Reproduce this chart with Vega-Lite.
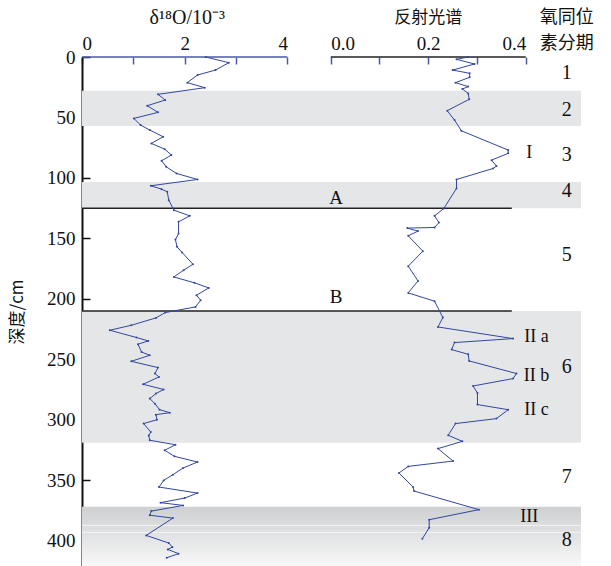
{
  "$schema": "https://vega.github.io/schema/vega-lite/v6.json",
  "width": 499,
  "height": 509,
  "autosize": "none",
  "padding": {"left": 82, "top": 57, "right": 30, "bottom": 0},
  "background": "white",
  "config": {"view": {"stroke": null}, "font": "Liberation Serif"},
  "datasets": {
    "d18o": [
      {"depth": 0, "d18O": 2.41}, {"depth": 4.7, "d18O": 2.86}, {"depth": 10.8, "d18O": 2.6}, {"depth": 14.9, "d18O": 2.25},
      {"depth": 21.2, "d18O": 2.05}, {"depth": 25.4, "d18O": 2.39}, {"depth": 30.9, "d18O": 1.48}, {"depth": 35.6, "d18O": 1.62},
      {"depth": 40.3, "d18O": 1.27}, {"depth": 45.8, "d18O": 1.48}, {"depth": 50.8, "d18O": 1.01}, {"depth": 56.3, "d18O": 1.14},
      {"depth": 60.4, "d18O": 1.32}, {"depth": 66, "d18O": 1.58}, {"depth": 71.5, "d18O": 1.35}, {"depth": 76.2, "d18O": 1.61},
      {"depth": 81.1, "d18O": 1.74}, {"depth": 85.8, "d18O": 1.55}, {"depth": 90.8, "d18O": 1.64}, {"depth": 96.3, "d18O": 1.84},
      {"depth": 101.3, "d18O": 2.25}, {"depth": 106.5, "d18O": 1.34}, {"depth": 109.3, "d18O": 1.55}, {"depth": 111.5, "d18O": 1.66},
      {"depth": 118.4, "d18O": 1.69}, {"depth": 126.7, "d18O": 1.79}, {"depth": 131.4, "d18O": 2.1}, {"depth": 136.3, "d18O": 1.88},
      {"depth": 146, "d18O": 1.88}, {"depth": 151, "d18O": 1.82}, {"depth": 157, "d18O": 1.85}, {"depth": 161.7, "d18O": 1.95},
      {"depth": 171.4, "d18O": 2.16}, {"depth": 176.3, "d18O": 1.98}, {"depth": 181.9, "d18O": 1.79}, {"depth": 186.8, "d18O": 2.19},
      {"depth": 191, "d18O": 2.47}, {"depth": 197, "d18O": 2.23}, {"depth": 201.2, "d18O": 2.31}, {"depth": 206.7, "d18O": 2.21},
      {"depth": 211.4, "d18O": 1.62}, {"depth": 215.8, "d18O": 1.44}, {"depth": 221.9, "d18O": 0.96}, {"depth": 226, "d18O": 0.54},
      {"depth": 232, "d18O": 1.06}, {"depth": 234.8, "d18O": 1.29}, {"depth": 237.6, "d18O": 1.09}, {"depth": 244, "d18O": 1.16},
      {"depth": 246.7, "d18O": 1.32}, {"depth": 251.7, "d18O": 0.96}, {"depth": 256.9, "d18O": 1.48}, {"depth": 261.8, "d18O": 1.42},
      {"depth": 264.6, "d18O": 1.5}, {"depth": 270.7, "d18O": 1.19}, {"depth": 275, "d18O": 1.59}, {"depth": 278.4, "d18O": 1.44},
      {"depth": 282.5, "d18O": 1.32}, {"depth": 286.7, "d18O": 1.42}, {"depth": 291.7, "d18O": 1.51}, {"depth": 294.2, "d18O": 1.71},
      {"depth": 295.8, "d18O": 1.44}, {"depth": 300, "d18O": 1.46}, {"depth": 303.2, "d18O": 1.2}, {"depth": 310.2, "d18O": 1.34},
      {"depth": 313, "d18O": 1.3}, {"depth": 317, "d18O": 1.32}, {"depth": 320.7, "d18O": 1.82}, {"depth": 325.3, "d18O": 1.61},
      {"depth": 330.3, "d18O": 1.8}, {"depth": 335, "d18O": 2.25}, {"depth": 339.9, "d18O": 1.97}, {"depth": 345.5, "d18O": 1.77},
      {"depth": 350.2, "d18O": 1.59}, {"depth": 355.7, "d18O": 1.5}, {"depth": 360.7, "d18O": 2.25}, {"depth": 364.8, "d18O": 2.0},
      {"depth": 368.6, "d18O": 1.53}, {"depth": 370.9, "d18O": 1.97}, {"depth": 375.6, "d18O": 1.35}, {"depth": 379, "d18O": 1.32},
      {"depth": 381.4, "d18O": 1.77}, {"depth": 395.7, "d18O": 1.25}, {"depth": 402, "d18O": 1.69}, {"depth": 405.4, "d18O": 1.76},
      {"depth": 407.3, "d18O": 1.67}, {"depth": 410.8, "d18O": 1.88}, {"depth": 414.2, "d18O": 1.65}
    ],
    "refl": [
      {"depth": 0, "refl": 0.282}, {"depth": 1.9, "refl": 0.258}, {"depth": 5.8, "refl": 0.295}, {"depth": 10.8, "refl": 0.25},
      {"depth": 13.5, "refl": 0.285}, {"depth": 16.8, "refl": 0.285}, {"depth": 21.2, "refl": 0.256}, {"depth": 24.5, "refl": 0.282},
      {"depth": 26.5, "refl": 0.27}, {"depth": 30.1, "refl": 0.282}, {"depth": 35, "refl": 0.284}, {"depth": 44.4, "refl": 0.239},
      {"depth": 52.2, "refl": 0.254}, {"depth": 61, "refl": 0.268}, {"depth": 77, "refl": 0.364}, {"depth": 79.7, "refl": 0.364},
      {"depth": 85.3, "refl": 0.33}, {"depth": 90.2, "refl": 0.34}, {"depth": 92.2, "refl": 0.333}, {"depth": 101.3, "refl": 0.258},
      {"depth": 108.7, "refl": 0.258}, {"depth": 125.3, "refl": 0.232}, {"depth": 131.4, "refl": 0.213}, {"depth": 136.9, "refl": 0.222},
      {"depth": 141, "refl": 0.213}, {"depth": 141.5, "refl": 0.157}, {"depth": 144, "refl": 0.179}, {"depth": 147.9, "refl": 0.159},
      {"depth": 160.6, "refl": 0.189}, {"depth": 173, "refl": 0.159}, {"depth": 185.2, "refl": 0.179}, {"depth": 195.1, "refl": 0.159},
      {"depth": 202, "refl": 0.213}, {"depth": 215.5, "refl": 0.23}, {"depth": 223.3, "refl": 0.22}, {"depth": 232.9, "refl": 0.374},
      {"depth": 236.2, "refl": 0.254}, {"depth": 242, "refl": 0.248}, {"depth": 245.9, "refl": 0.282}, {"depth": 251.4, "refl": 0.284},
      {"depth": 261.8, "refl": 0.381}, {"depth": 266, "refl": 0.374}, {"depth": 272.1, "refl": 0.292}, {"depth": 277.9, "refl": 0.301},
      {"depth": 287.5, "refl": 0.301}, {"depth": 291.7, "refl": 0.364}, {"depth": 299.1, "refl": 0.34}, {"depth": 303.2, "refl": 0.256},
      {"depth": 312.9, "refl": 0.241}, {"depth": 317.9, "refl": 0.27}, {"depth": 323.9, "refl": 0.22}, {"depth": 334.2, "refl": 0.251},
      {"depth": 338.6, "refl": 0.159}, {"depth": 344.1, "refl": 0.14}, {"depth": 355.7, "refl": 0.169}, {"depth": 359, "refl": 0.171},
      {"depth": 374.4, "refl": 0.304}, {"depth": 382.7, "refl": 0.202}, {"depth": 389.3, "refl": 0.202}, {"depth": 398.4, "refl": 0.188}
    ],
    "bands": [
      {"stage": "2", "top": 28, "bottom": 57},
      {"stage": "4", "top": 103.3, "bottom": 125},
      {"stage": "6", "top": 210, "bottom": 319}
    ],
    "band8": [{"stage": "8", "top": 372, "bottom": 421}],
    "band8lines": [{"depth": 387.4}, {"depth": 393.2}],
    "bounds": [{"name": "A", "depth": 125, "labelDepth": 116.5}, {"name": "B", "depth": 210, "labelDepth": 198.5}],
    "stages": [
      {"label": "1", "depth": 13.2}, {"label": "2", "depth": 43.9}, {"label": "3", "depth": 81.1}, {"label": "4", "depth": 110.9},
      {"label": "5", "depth": 163.9}, {"label": "6", "depth": 256.6}, {"label": "7", "depth": 347.7}, {"label": "8", "depth": 399.8}
    ],
    "events": [
      {"label": "I", "depth": 79.5, "pos": 8.71}, {"label": "II a", "depth": 231.5, "pos": 8.85},
      {"label": "II b", "depth": 264, "pos": 8.85}, {"label": "II c", "depth": 291.6, "pos": 8.85},
      {"label": "III", "depth": 380.5, "pos": 8.71}
    ],
    "header": [{"label": "氧同位", "depth": -32.3}, {"label": "素分期", "depth": -10.8}]
  },
  "layer": [
    {
      "layer": [
        {
          "data": {"name": "bands"},
          "mark": {"type": "rect", "color": "#e5e6e8"},
          "encoding": {
            "y": {"field": "top", "type": "quantitative", "title": "深度/cm",
                  "scale": {"domain": [0, 421], "reverse": true, "nice": false, "zero": false},
                  "axis": {"values": [0, 50, 100, 150, 200, 250, 300, 350, 400], "tickSize": -8, "labelPadding": 15,
                           "domainColor": "#111", "domainWidth": 2, "tickColor": "#111", "tickWidth": 1.5,
                           "labelFont": "Liberation Serif", "labelFontSize": 19, "labelColor": "#111", "grid": false,
                           "titleFont": "Noto Sans CJK SC", "titleFontSize": 17, "titleFontWeight": "normal", "titleColor": "#111", "titlePadding": 20}},
            "y2": {"field": "bottom"}
          }
        },
        {
          "data": {"name": "band8"},
          "mark": {"type": "rect", "color": {"gradient": "linear", "x1": 0, "y1": 0, "x2": 0, "y2": 1,
                   "stops": [{"offset": 0, "color": "#cfd0d2"}, {"offset": 0.5, "color": "#e2e3e4"}, {"offset": 1, "color": "#f8f8f8"}]}},
          "encoding": {"y": {"field": "top", "type": "quantitative", "title": "深度/cm"}, "y2": {"field": "bottom"}}
        },
        {
          "data": {"name": "band8lines"},
          "mark": {"type": "rule", "color": "#f4f4f4", "strokeWidth": 1},
          "encoding": {"y": {"field": "depth", "type": "quantitative", "title": "深度/cm"}}
        },
        {
          "data": {"name": "bounds"},
          "mark": {"type": "rule", "color": "#222", "strokeWidth": 1.5},
          "encoding": {
            "y": {"field": "depth", "type": "quantitative", "title": "深度/cm"},
            "x": {"datum": 0, "type": "quantitative",
                  "scale": {"domain": [0, 9.718], "nice": false, "zero": false},
                  "axis": {"orient": "top", "values": [0, 1, 2, 3, 4], "domain": false, "tickSize": -7, "tickColor": "#4a5aa8", "tickWidth": 1.5,
                           "labelExpr": "datum.value % 2 == 0 ? datum.label : ''", "labelPadding": 11,
                           "labelAlign": {"condition": [{"test": "datum.value == 0", "value": "left"}, {"test": "datum.value == 4", "value": "right"}], "value": "center"},
                           "labelFont": "Liberation Serif", "labelFontSize": 19, "labelColor": "#111", "grid": false, "title": null}},
            "x2": {"datum": 8.37}
          }
        },
        {
          "data": {"values": [{"depth": 0}]},
          "mark": {"type": "rule", "color": "#4a5aa8", "strokeWidth": 1.5},
          "encoding": {"y": {"field": "depth", "type": "quantitative", "title": "深度/cm"}, "x": {"datum": 0, "type": "quantitative"}, "x2": {"datum": 4}}
        },
        {
          "data": {"name": "bounds"},
          "mark": {"type": "text", "font": "Liberation Serif", "fontSize": 19, "color": "#111", "baseline": "middle"},
          "encoding": {"y": {"field": "labelDepth", "type": "quantitative", "title": "深度/cm"}, "x": {"datum": 4.95, "type": "quantitative"}, "text": {"field": "name"}}
        },
        {
          "data": {"name": "d18o"},
          "mark": {"type": "line", "color": "#3346a0", "strokeWidth": 1, "point": {"filled": true, "size": 4, "color": "#3346a0"}},
          "encoding": {
            "y": {"field": "depth", "type": "quantitative", "title": "深度/cm"},
            "x": {"field": "d18O", "type": "quantitative"},
            "order": {"field": "depth"}
          }
        },
        {
          "data": {"name": "stages"},
          "mark": {"type": "text", "font": "Liberation Serif", "fontSize": 20, "color": "#111", "baseline": "middle"},
          "encoding": {"y": {"field": "depth", "type": "quantitative", "title": "深度/cm"}, "x": {"datum": 9.44, "type": "quantitative"}, "text": {"field": "label"}}
        },
        {
          "data": {"name": "events"},
          "mark": {"type": "text", "font": "Liberation Serif", "fontSize": 18, "color": "#111", "baseline": "middle"},
          "encoding": {"y": {"field": "depth", "type": "quantitative", "title": "深度/cm"}, "x": {"field": "pos", "type": "quantitative"}, "text": {"field": "label"}}
        },
        {
          "data": {"name": "header"},
          "mark": {"type": "text", "font": "Noto Sans CJK SC", "fontSize": 18, "color": "#111", "baseline": "middle"},
          "encoding": {"y": {"field": "depth", "type": "quantitative", "title": "深度/cm"}, "x": {"datum": 9.44, "type": "quantitative"}, "text": {"field": "label"}}
        },
        {
          "data": {"values": [{"label": "δ¹⁸O/10⁻³", "depth": -32.3}]},
          "mark": {"type": "text", "font": "Liberation Serif", "fontSize": 20, "color": "#111", "baseline": "middle"},
          "encoding": {"y": {"field": "depth", "type": "quantitative", "title": "深度/cm"}, "x": {"datum": 2.05, "type": "quantitative"}, "text": {"field": "label"}}
        }
      ]
    },
    {
      "layer": [
        {
          "data": {"values": [{"depth": 0}]},
          "mark": {"type": "rule", "color": "#222", "strokeWidth": 1.5},
          "encoding": {
            "y": {"field": "depth", "type": "quantitative", "title": "深度/cm"},
            "x": {"datum": 0, "type": "quantitative",
                  "scale": {"domain": [-0.5102, 0.5134], "nice": false, "zero": false},
                  "axis": {"orient": "top", "values": [0, 0.1, 0.2, 0.3, 0.4], "format": ".1f", "domain": false, "tickSize": -7, "tickColor": "#4a5aa8", "tickWidth": 1.5,
                           "labelExpr": "indexof(['0.0','0.2','0.4'], datum.label) >= 0 ? datum.label : ''", "labelPadding": 11,
                           "labelAlign": {"condition": [{"test": "datum.value == 0", "value": "left"}, {"test": "datum.value > 0.35", "value": "right"}], "value": "center"},
                           "labelFont": "Liberation Serif", "labelFontSize": 19, "labelColor": "#111", "grid": false, "title": null}},
            "x2": {"datum": 0.4}
          }
        },
        {
          "data": {"name": "refl"},
          "mark": {"type": "line", "color": "#3346a0", "strokeWidth": 1, "point": {"filled": true, "size": 4, "color": "#3346a0"}},
          "encoding": {
            "y": {"field": "depth", "type": "quantitative", "title": "深度/cm"},
            "x": {"field": "refl", "type": "quantitative"},
            "order": {"field": "depth"}
          }
        },
        {
          "data": {"values": [{"label": "反射光谱", "depth": -32.3}]},
          "mark": {"type": "text", "font": "Noto Sans CJK SC", "fontSize": 17, "color": "#111", "baseline": "middle"},
          "encoding": {"y": {"field": "depth", "type": "quantitative", "title": "深度/cm"}, "x": {"datum": 0.2, "type": "quantitative"}, "text": {"field": "label"}}
        }
      ]
    }
  ],
  "resolve": {"scale": {"x": "independent"}, "axis": {"x": "independent"}}
}
